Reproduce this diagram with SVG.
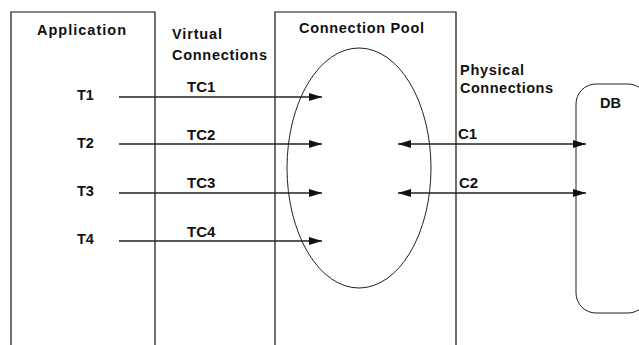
<svg xmlns="http://www.w3.org/2000/svg" width="639" height="345" viewBox="0 0 639 345">
<style>
.box{fill:none;stroke:#111;stroke-width:1.2}
.thin{fill:none;stroke:#222;stroke-width:1}
.conn{stroke:#222;stroke-width:1.3;fill:none}
text{font-family:"Liberation Sans",Arial,sans-serif;font-size:14.5px;font-weight:bold;fill:#111}
.lbl{font-size:15px}
</style>
<defs>
<marker id="ah" markerUnits="userSpaceOnUse" markerWidth="14" markerHeight="10" refX="13" refY="4.5" orient="auto-start-reverse" viewBox="0 0 14 10">
<path d="M0,0.5 L13,4.5 L0,8.5 Z" fill="#111"/>
</marker>
</defs>
<rect width="639" height="345" fill="#fff"/>
<g id="application">
<path class="box" d="M11,345 V12 H155 V345"/>
<text x="37" y="35" textLength="89" lengthAdjust="spacing">Application</text>
<text x="77" y="100">T1</text>
<text x="77" y="148">T2</text>
<text x="77" y="196">T3</text>
<text x="77" y="244">T4</text>
</g>
<g id="virtual-connections">
<text x="172" y="39" textLength="50" lengthAdjust="spacing">Virtual</text>
<text x="172" y="60" textLength="95" lengthAdjust="spacing">Connections</text>
</g>
<g id="connection-pool">
<path class="box" d="M275,345 V12 H456 V345"/>
<text x="299" y="33" textLength="125" lengthAdjust="spacing">Connection Pool</text>
<ellipse class="thin" cx="359" cy="168" rx="72" ry="120"/>
</g>
<g id="physical-connections">
<text x="460" y="75" textLength="64" lengthAdjust="spacing">Physical</text>
<text x="460" y="93" textLength="93" lengthAdjust="spacing">Connections</text>
</g>
<g id="db">
<rect class="thin" x="576" y="84" width="72" height="229" rx="20" ry="20"/>
<text x="600" y="108">DB</text>
</g>
<g id="connectors">
<line class="conn" x1="119" y1="97" x2="322" y2="97" marker-end="url(#ah)"/>
<line class="conn" x1="119" y1="144" x2="322" y2="144" marker-end="url(#ah)"/>
<line class="conn" x1="119" y1="193" x2="322" y2="193" marker-end="url(#ah)"/>
<line class="conn" x1="119" y1="241" x2="322" y2="241" marker-end="url(#ah)"/>
<line class="conn" x1="398" y1="144" x2="586" y2="144" marker-start="url(#ah)" marker-end="url(#ah)"/>
<line class="conn" x1="398" y1="193" x2="586" y2="193" marker-start="url(#ah)" marker-end="url(#ah)"/>
<text class="lbl" x="187" y="92">TC1</text>
<text class="lbl" x="187" y="140">TC2</text>
<text class="lbl" x="187" y="188">TC3</text>
<text class="lbl" x="187" y="237">TC4</text>
<text class="lbl" x="458" y="139">C1</text>
<text class="lbl" x="459" y="188">C2</text>
</g>
</svg>
